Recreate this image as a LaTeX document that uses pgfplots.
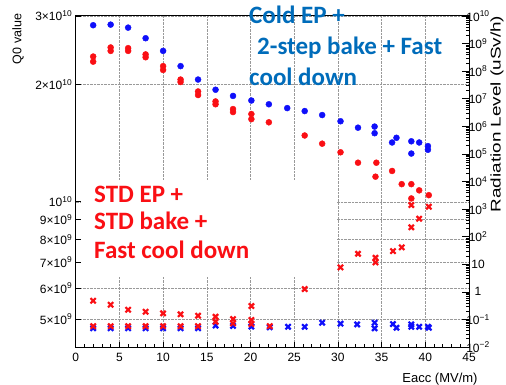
\documentclass[border=0pt]{standalone}
\usepackage{fontspec}
\setmainfont{Liberation Sans}
\newfontfamily\calfont{Carlito}
\usepackage{pgfplots}
\pgfplotsset{compat=1.18}

\definecolor{noteblue}{RGB}{0,108,186}
\definecolor{mkblue}{RGB}{15,15,250}
\definecolor{mkred}{RGB}{250,15,20}

% Q0 versus Eacc, cold EP + 2-step bake
\pgfplotstableread{
x q
2 2.84e10
4 2.85e10
6 2.80e10
8 2.63e10
10 2.44e10
12 2.23e10
14 2.06e10
16 1.94e10
18 1.87e10
20.1 1.82e10
22.1 1.78e10
24.2 1.74e10
26.2 1.71e10
28.2 1.67e10
30.3 1.61e10
32.3 1.55e10
34.2 1.56e10
34.2 1.50e10
36.2 1.42e10
36.7 1.46e10
38.4 1.43e10
38.4 1.33e10
39.3 1.42e10
40.3 1.39e10
40.3 1.36e10
}\qcold

% Q0 versus Eacc, standard EP + standard bake
\pgfplotstableread{
x q
2 2.36e10
2 2.29e10
4 2.49e10
4 2.44e10
6 2.48e10
6 2.44e10
8 2.39e10
8 2.35e10
10 2.23e10
10 2.18e10
12 2.06e10
12 2.03e10
14 1.92e10
14 1.88e10
16 1.81e10
16 1.78e10
18 1.73e10
18 1.70e10
20.1 1.68e10
20.1 1.63e10
22.1 1.60e10
26.2 1.48e10
28.2 1.41e10
30.3 1.34e10
32.3 1.26e10
34.4 1.26e10
34.3 1.16e10
36.2 1.20e10
37.3 1.11e10
38.4 1.11e10
38.4 1.02e10
39.3 1.07e10
40.4 1.04e10
}\qstd

% Radiation level (uSv/h), cold EP
\pgfplotstableread{
x r
2 0.048
4 0.048
6 0.048
8 0.048
10 0.048
12 0.048
14 0.048
16 0.060
18 0.058
20.1 0.055
22.2 0.052
24.3 0.054
26.2 0.054
28.2 0.076
30.3 0.070
32.2 0.066
34.2 0.076
34.2 0.0475
36.3 0.068
36.7 0.050
38.4 0.066
38.4 0.054
39.3 0.054
40.3 0.054
40.4 0.050
}\rcold

% Radiation level (uSv/h), standard EP
\pgfplotstableread{
x r
2 0.475
2 0.057
4 0.34
4 0.057
6 0.224
6 0.057
8 0.19
8 0.057
10 0.166
10 0.057
12 0.153
12 0.057
14 0.136
14 0.057
16 0.125
16 0.082
18 0.103
18 0.072
20.1 0.305
20.1 0.095
20.1 0.068
22.2 0.057
26.2 1.26
30.3 7.7
32.3 24
34.3 17.2
34.3 11.7
36.3 30
37.3 41
38.4 218
38.4 1400
39.3 447
40.4 1216
}\rstd

\pgfplotsset{
  frame/.style={
    at={(75.7bp,37bp)}, anchor=south west,
    scale only axis, width=393.3bp, height=331bp,
    xmin=0, xmax=45,
    tick align=inside,
    axis line style={line width=0.9bp,-},
    tick style={black, line width=0.6bp},
    tick label style={font=\fontsize{12bp}{14bp}\selectfont},
  },
  dots/.style={only marks, mark=*, mark size=3bp, color=#1,
    mark options={draw=#1, fill=#1}},
  crosses/.style={only marks, mark=x, mark size=3.7bp, color=#1,
    line width=2.2bp, mark options={draw=#1, line width=2.2bp}},
}

\begin{document}
\begin{tikzpicture}[x=1bp,y=1bp]
\path[use as bounding box] (0,0) rectangle (506,384);

% left scale: Q0
\begin{axis}[frame,
  ymode=log, ymin=4.24e9, ymax=3e10,
  xtick={0,5,...,45},
  xticklabels={0,5,10,15,20,25,30,35,40,45},
  minor x tick num=4,
  ytick={5e9,6e9,7e9,8e9,9e9,1e10,2e10,3e10},
  yticklabels={5×10\textsuperscript{9},6×10\textsuperscript{9},7×10\textsuperscript{9},
    8×10\textsuperscript{9},9×10\textsuperscript{9},10\textsuperscript{10},
    2×10\textsuperscript{10},3×10\textsuperscript{10}},
  xtick pos=bottom, ytick pos=left,
  major tick length=5bp, minor tick length=3bp,
  grid=major,
  major grid style={densely dotted, black!40, line width=0.5bp},
  xticklabel style={yshift=-3bp},
]
\addplot[dots=mkblue] table[x=x, y=q] {\qcold};
\addplot[dots=mkred] table[x=x, y=q] {\qstd};
\end{axis}

% right scale: radiation level
\begin{axis}[frame,
  axis x line=none, axis y line*=right,
  ymode=log, ymin=1e-2, ymax=1e10,
  ytick={1e-2,1e-1,1,10,1e2,1e3,1e4,1e5,1e6,1e7,1e8,1e9,1e10},
  yticklabels={10\textsuperscript{−2},10\textsuperscript{−1},1,10,10\textsuperscript{2},
    10\textsuperscript{3},10\textsuperscript{4},10\textsuperscript{5},10\textsuperscript{6},
    10\textsuperscript{7},10\textsuperscript{8},10\textsuperscript{9},10\textsuperscript{10}},
  minor ytick={2e-2,3e-2,4e-2,5e-2,6e-2,7e-2,8e-2,9e-2,
    2e-1,3e-1,4e-1,5e-1,6e-1,7e-1,8e-1,9e-1,
    2,3,4,5,6,7,8,9,
    20,30,40,50,60,70,80,90,
    200,300,400,500,600,700,800,900,
    2e3,3e3,4e3,5e3,6e3,7e3,8e3,9e3,
    2e4,3e4,4e4,5e4,6e4,7e4,8e4,9e4,
    2e5,3e5,4e5,5e5,6e5,7e5,8e5,9e5,
    2e6,3e6,4e6,5e6,6e6,7e6,8e6,9e6,
    2e7,3e7,4e7,5e7,6e7,7e7,8e7,9e7,
    2e8,3e8,4e8,5e8,6e8,7e8,8e8,9e8,
    2e9,3e9,4e9,5e9,6e9,7e9,8e9,9e9},
  major tick length=7bp, minor tick length=3.5bp,
  yticklabel style={anchor=center, xshift=9bp},
]
\addplot[crosses=mkblue] table[x=x, y=r] {\rcold};
\addplot[crosses=mkred] table[x=x, y=r] {\rstd};
\end{axis}

% axis titles
\node[rotate=90, font=\fontsize{12.5bp}{14bp}\selectfont] at (18,345) {Q0 value};
\node[rotate=90, xscale=1.35, font=\fontsize{14bp}{16bp}\selectfont] at (497,270) {Radiation Level (uSv/h)};
\node[font=\fontsize{13bp}{15bp}\selectfont] at (440,5) {Eacc (MV/m)};

% notes
\fill[white] (81,107) rectangle (337,204);
\begin{scope}[every node/.style={anchor=base west, inner sep=0pt,
    font=\calfont\bfseries\fontsize{25bp}{30bp}\selectfont}]
\node[text=mkred] at (94,182) {STD EP +};
\node[text=mkred] at (94,154.5) {STD bake +};
\node[text=mkred] at (94,126) {Fast cool down};
\node[text=noteblue] at (249,361) {Cold EP +};
\node[text=noteblue] at (257,329.5) {2-step bake + Fast};
\node[text=noteblue] at (249,299) {cool down};
\end{scope}
\end{tikzpicture}
\end{document}
